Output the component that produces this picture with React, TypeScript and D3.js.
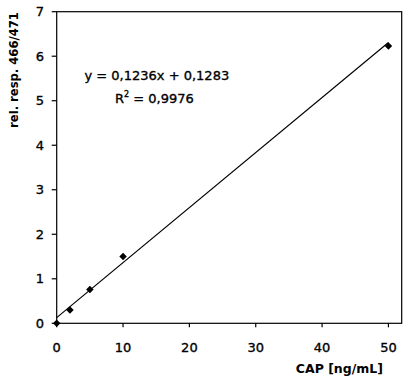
import React from "react";
import * as d3 from "d3";

const concentrations = [0, 2, 5, 10, 50];
const responses = [0, 0.3, 0.76, 1.5, 6.23];
const slope = 0.1236;
const intercept = 0.1283;
const xTicks = [0, 10, 20, 30, 40, 50];
const yTicks = [0, 1, 2, 3, 4, 5, 6, 7];
const equationText = "y = 0,1236x + 0,1283";
const r2Value = "0,9976";
const xTitle = "CAP [ng/mL]";
const yTitle = "rel. resp. 466/471";

export default function App() {
  const W = 410, H = 383;
  const left = 56.7, right = 401.7, top = 11.7, bottom = 323.3;
  const x = d3.scaleLinear().domain([0, 52]).range([left, right]);
  const y = d3.scaleLinear().domain([0, 7]).range([bottom, top]);
  const font = "'DejaVu Sans', sans-serif";
  const line = d3.line<number>().x((d) => x(d)).y((d) => y(slope * d + intercept));
  const diamond = d3.symbol().type(d3.symbolSquare).size(28)();
  const thick = { stroke: "black", strokeWidth: 0.35 };
  return (
    <svg width={W} height={H} style={{ position: "absolute", left: 0, top: 0 }}>
      <rect x={0} y={0} width={W} height={H} fill="white" />
      <rect x={left} y={top} width={right - left} height={bottom - top} fill="none" stroke="black" strokeWidth={1.2} />
      {xTicks.map((t) => (
        <g key={"x" + t}>
          <line x1={x(t)} x2={x(t)} y1={bottom} y2={bottom + 4} stroke="black" strokeWidth={1.2} />
          <text x={x(t)} y={352} textAnchor="middle" fontFamily={font} fontSize={13} fill="black" {...thick}>{t}</text>
        </g>
      ))}
      {yTicks.map((t) => (
        <g key={"y" + t}>
          <line x1={left - 5} x2={left} y1={y(t)} y2={y(t)} stroke="black" strokeWidth={1.2} />
          <text x={44} y={y(t) + 4.7} textAnchor="end" fontFamily={font} fontSize={13} fill="black" {...thick}>{t}</text>
        </g>
      ))}
      <path d={line([0, 50]) || ""} fill="none" stroke="black" strokeWidth={1.2} />
      {concentrations.map((c, i) => (
        <path key={"p" + i} d={diamond || ""} transform={`translate(${x(c)},${y(responses[i])}) rotate(45)`} fill="black" />
      ))}
      <text x={84.5} y={80} fontFamily={font} fontSize={13} fill="black" {...thick}>{equationText}</text>
      <text x={115} y={103} fontFamily={font} fontSize={13} fill="black" {...thick}>
        R<tspan dy={-6} fontSize={8}>2</tspan><tspan dy={6}> = {r2Value}</tspan>
      </text>
      <text x={383} y={373} textAnchor="end" fontFamily={font} fontSize={12.5} fontWeight={700} fill="black">{xTitle}</text>
      <text transform="translate(17.5,70) rotate(-90)" textAnchor="middle" fontFamily={font} fontSize={11.6} fontWeight={700} fill="black">{yTitle}</text>
    </svg>
  );
}
